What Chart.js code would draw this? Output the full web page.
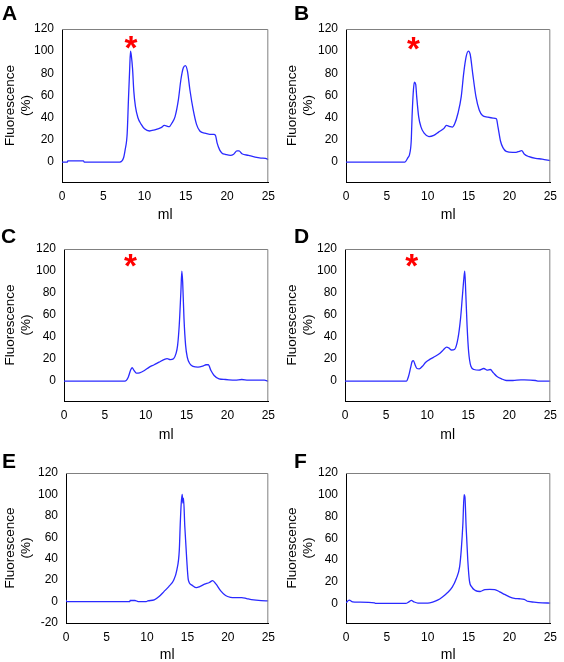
<!DOCTYPE html>
<html>
<head>
<meta charset="utf-8">
<script src="https://cdn.jsdelivr.net/npm/chart.js@4"></script>
<style>
  html, body { margin: 0; padding: 0; background: #fff; }
  #page { position: relative; width: 564px; height: 662px; overflow: hidden; }
  #page canvas { position: absolute; }
  .letter { position: absolute; font: bold 21px Arial, "Liberation Sans", sans-serif; line-height: 21px; color: #000; }
</style>
</head>
<body>
<div id="page"></div>
<script>
// --- data: [ml, fluorescence %] read from the elution profiles ---
const traceA = [[0,0],[0.65,0],[0.7,1],[2.6,1],[2.7,0],[7.0,0],[7.45,3.6],[7.65,11],[7.9,26],[8.05,56],[8.2,84],[8.3,100],[8.4,96],[8.55,84],[8.7,64],[8.9,50],[9.2,40],[9.6,34],[10.0,30],[10.6,28],[11.2,29],[12.0,31],[12.4,33],[13.0,32],[13.3,35],[13.7,41],[14.1,56],[14.4,74],[14.7,85],[14.95,87],[15.2,82],[15.5,65],[15.9,47],[16.3,34],[16.7,28],[17.3,26],[17.9,25],[18.4,25],[18.6,24],[18.8,17],[19.1,11],[19.4,8],[19.8,7],[20.4,6],[20.8,7],[21.2,10],[21.45,10],[21.8,7.5],[22.6,6],[23.4,4.5],[24.1,3.6],[24.9,2.7],[25,2]];
const traceB = [[0,0],[7.2,0],[7.58,4],[7.78,7],[7.98,19],[8.1,44],[8.25,65],[8.37,72],[8.53,70],[8.65,59],[8.89,41],[9.16,32],[9.56,26],[10.15,23],[10.74,24],[11.33,27],[11.93,30],[12.3,33],[12.7,32],[13.0,31.5],[13.3,34.5],[13.7,44],[14.1,59],[14.4,80],[14.7,95],[14.97,100],[15.2,97],[15.5,80],[15.9,59],[16.3,47],[16.7,42],[17.3,40.6],[18.0,39.7],[18.4,39],[18.6,31.5],[18.9,19],[19.2,13],[19.6,9.7],[20.4,8.8],[20.8,8.8],[21.2,9.7],[21.5,10.3],[21.8,7.3],[22.4,4.8],[23.2,3.3],[24.0,2.7],[25,1.2]];
const traceC = [[0,0],[7.45,0],[7.86,3.6],[8.13,9.7],[8.33,12.2],[8.57,9.7],[8.85,7.3],[9.25,7.6],[9.84,9.7],[10.44,12.8],[11.03,14.9],[11.63,17.3],[12.22,19.5],[12.62,20.4],[13.0,19.5],[13.4,20.4],[13.7,25],[13.9,32.5],[14.1,50.8],[14.3,81],[14.42,100],[14.52,90],[14.68,57],[14.88,32.5],[15.08,21.9],[15.4,15.8],[15.8,13.4],[16.39,12.8],[16.98,13.7],[17.38,14.9],[17.66,14.9],[17.98,9.7],[18.37,5.2],[18.97,2.1],[19.76,1.5],[20.95,0.9],[21.75,1.5],[22.54,0.9],[24.52,0.9],[25,0]];
const traceD = [[0,0],[7.47,0],[7.74,4.5],[7.98,12],[8.18,18],[8.33,18.7],[8.53,15],[8.77,11.5],[9.04,11.2],[9.43,13.6],[9.83,17.2],[10.42,20.2],[11.0,22.6],[11.6,25.6],[11.99,28.6],[12.38,31],[12.66,30],[12.97,28.3],[13.36,29],[13.76,39],[14.07,57],[14.27,75],[14.47,93],[14.58,100],[14.7,81],[14.86,51],[15.05,27],[15.33,13.6],[15.72,10.6],[16.31,10],[16.9,11.5],[17.3,10],[17.69,10.6],[18.08,7.5],[18.47,4.5],[19.06,2.1],[19.65,0.6],[20.44,0.6],[21.42,1.2],[21.82,1.2],[23.2,0.6],[23.58,0],[25,0]];
const traceE = [[0,1.5],[0.1,0],[7.9,0],[7.92,1],[8.52,1],[8.92,0],[9.92,0],[10.1,0.6],[10.9,1.6],[11.5,4.7],[12.1,9.3],[12.7,14],[13.3,20],[13.7,29.6],[14.0,48],[14.12,73],[14.24,92],[14.36,100],[14.44,92],[14.52,96.6],[14.68,70],[14.92,39],[15.12,20],[15.52,15.6],[16.12,13],[16.52,14],[17.12,16.2],[17.72,17.8],[18.12,19.6],[18.52,16.5],[19.12,10],[19.72,5.6],[20.32,4],[20.92,3.7],[21.72,3.7],[22.32,2.8],[22.92,1.9],[24.12,0.9],[25,0.6]];
const traceF = [[0,0.6],[0.4,3],[0.8,1.5],[1.5,1.2],[3.5,0.6],[3.6,0],[7.3,0],[7.7,1.5],[8.0,2.8],[8.3,1.5],[8.8,0.3],[10.0,0.3],[10.6,1.2],[11.2,3],[11.8,6],[12.4,9.8],[13.0,15],[13.5,23],[13.9,33.6],[14.1,49],[14.3,73],[14.45,100],[14.55,98],[14.7,70],[14.9,40],[15.1,21],[15.4,15],[15.8,12],[16.4,11],[17.0,12.8],[17.6,13],[18.2,12.8],[18.8,10.7],[19.4,8.3],[20.0,6],[20.6,4.6],[21.2,4.3],[21.8,3.7],[22.3,1.8],[23.0,1.2],[24.0,0.6],[25,0.3]];

// asterisks marking the aggregate peak (panels A-D)
const starA = [8.36, 107.5];
const starB = [8.25, 107.3];
const starC = [8.13, 110];
const starD = [8.14, 110];

const xTicks = [0, 5, 10, 15, 20, 25];
const yTicks = [0, 20, 40, 60, 80, 100, 120];
const yTicksE = [-20, 0, 20, 40, 60, 80, 100, 120];

// --- layout (page pixels) ---
const FONT = 'Arial, "Liberation Sans", sans-serif';
const CW = 282, CH = 225;

const panels = [
  { name: "A", trace: traceA, star: starA, yMin: -18, ticks: yTicks, cx: 0, cy: 0, plot: [62, 29, 274, 182], lx: 2, ly: 2 },
  { name: "B", trace: traceB, star: starB, yMin: -18, ticks: yTicks, cx: 282, cy: 0, plot: [346, 29, 557, 182], lx: 294, ly: 2 },
  { name: "C", trace: traceC, star: starC, yMin: -18, ticks: yTicks, cx: 0, cy: 220, plot: [64, 249, 274, 401], lx: 1, ly: 225 },
  { name: "D", trace: traceD, star: starD, yMin: -18, ticks: yTicks, cx: 282, cy: 220, plot: [345, 249, 557, 401], lx: 294, ly: 225 },
  { name: "E", trace: traceE, star: null, yMin: -20, ticks: yTicksE, cx: 0, cy: 440, plot: [66, 473, 274, 623], lx: 2, ly: 450 },
  { name: "F", trace: traceF, star: null, yMin: -18, ticks: yTicks, cx: 282, cy: 440, plot: [346, 473, 558, 623], lx: 294, ly: 450 },
];

// grey top/right frame + red asterisk
const framePlugin = {
  id: "frame",
  afterDatasetsDraw(chart, args, opts) {
    const { ctx, chartArea: a } = chart;
    ctx.save();
    ctx.strokeStyle = "#808080";
    ctx.lineWidth = 1;
    ctx.beginPath();
    ctx.moveTo(a.left, a.top + 0.5);
    ctx.lineTo(a.right - 0.5, a.top + 0.5);
    ctx.lineTo(a.right - 0.5, a.bottom);
    ctx.stroke();

    if (opts.star) {
      const x = chart.scales.x.getPixelForValue(opts.star[0]);
      const y = chart.scales.y.getPixelForValue(opts.star[1]);
      ctx.font = "bold 100px " + FONT;
      const m100 = ctx.measureText("*");
      const size = 100 * 13 / (m100.actualBoundingBoxLeft + m100.actualBoundingBoxRight);
      ctx.font = "bold " + size.toFixed(1) + "px " + FONT;
      const m = ctx.measureText("*");
      ctx.fillStyle = "#ff0000";
      ctx.textAlign = "left";
      ctx.textBaseline = "alphabetic";
      ctx.fillText("*",
        x - (m.actualBoundingBoxRight - m.actualBoundingBoxLeft) / 2,
        y + (m.actualBoundingBoxAscent - m.actualBoundingBoxDescent) / 2);
    }
    ctx.restore();
  },
};

const page = document.getElementById("page");

panels.forEach((p) => {
  const canvas = document.createElement("canvas");
  canvas.width = CW;
  canvas.height = CH;
  canvas.style.left = p.cx + "px";
  canvas.style.top = p.cy + "px";
  page.appendChild(canvas);

  const letter = document.createElement("div");
  letter.className = "letter";
  letter.textContent = p.name;
  letter.style.left = p.lx + "px";
  letter.style.top = p.ly + "px";
  page.appendChild(letter);

  const [pl, pt, pr, pb] = p.plot;

  new Chart(canvas, {
    type: "line",
    data: {
      datasets: [{
        data: p.trace,
        borderColor: "#2a2aff",
        borderWidth: 1.3,
        pointRadius: 0,
        fill: false,
        cubicInterpolationMode: "monotone",
      }],
    },
    options: {
      responsive: false,
      animation: false,
      layout: { padding: { top: pt - p.cy, right: p.cx + CW - pr, left: 0, bottom: 0 } },
      plugins: {
        legend: { display: false },
        tooltip: { enabled: false },
        frame: { star: p.star },
      },
      scales: {
        x: {
          type: "linear",
          min: 0,
          max: 25,
          grid: { display: false, drawTicks: false },
          border: { display: true, color: "#000", width: 1 },
          afterBuildTicks: (s) => { s.ticks = xTicks.map((v) => ({ value: v })); },
          afterFit: (s) => { s.height = p.cy + CH - pb; },
          ticks: { color: "#000", padding: 7, maxRotation: 0, font: { family: FONT, size: 12 } },
          title: { display: true, text: "ml", color: "#000", padding: { top: 0, bottom: 1 }, font: { family: FONT, size: 14 } },
        },
        y: {
          min: p.yMin,
          max: 120,
          grid: { display: false, drawTicks: false },
          border: { display: true, color: "#000", width: 1 },
          afterBuildTicks: (s) => { s.ticks = p.ticks.map((v) => ({ value: v })); },
          afterFit: (s) => { s.width = pl - p.cx; },
          ticks: { color: "#000", padding: 8, font: { family: FONT, size: 12 } },
          title: {
            display: true,
            text: ["Fluorescence", "(%)"],
            color: "#000",
            padding: { top: 2, bottom: 0 },
            font: { family: FONT, size: 13.5, lineHeight: 1.2 },
          },
        },
      },
    },
    plugins: [framePlugin],
  });
});
</script>
</body>
</html>
